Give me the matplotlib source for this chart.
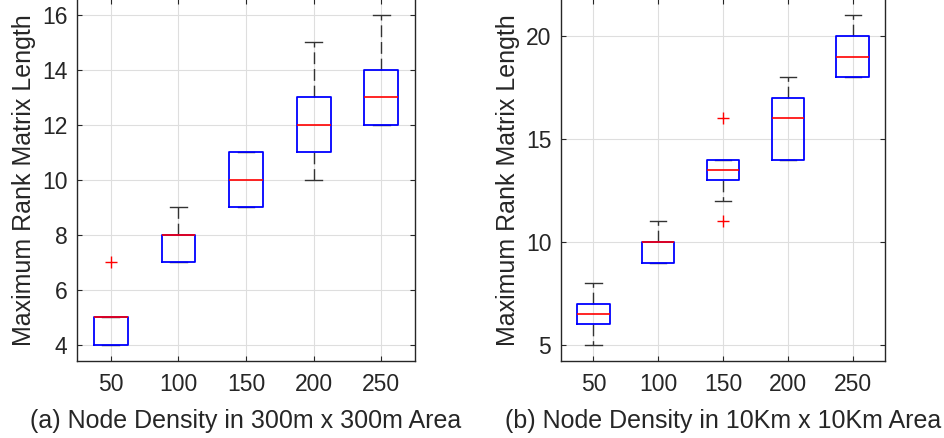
import matplotlib
matplotlib.use("Agg")
import matplotlib.pyplot as plt

plt.rcParams['font.family'] = ['Liberation Sans', 'DejaVu Sans']

densities = [50, 100, 150, 200, 250]

# (a) 300m x 300m area
a_lo = [4, 7, 9, 10, 12]
a_q1 = [4, 7, 9, 11, 12]
a_med = [5, 8, 10, 12, 13]
a_q3 = [5, 8, 11, 13, 14]
a_hi = [5, 9, 11, 15, 16]
a_out = [[7], [], [], [], []]

# (b) 10Km x 10Km area
b_lo = [5, 9, 12, 14, 18]
b_q1 = [6, 9, 13, 14, 18]
b_med = [6.5, 10, 13.5, 16, 19]
b_q3 = [7, 10, 14, 17, 20]
b_hi = [8, 11, 14, 18, 21]
b_out = [[], [], [16, 11], [], []]

TXT = '#262626'


def make_stats(lo, q1, med, q3, hi, out):
    return [dict(whislo=l, q1=a, med=m, q3=b, whishi=h, fliers=f)
            for l, a, m, b, h, f in zip(lo, q1, med, q3, hi, out)]


def draw_panel(ax, stats, ylim, yticks, xlabel):
    pos = list(range(1, len(densities) + 1))
    # caps/whiskers sit under the box so a zero-length whisker stays hidden
    ax.bxp(stats, positions=pos, widths=0.5,
           boxprops=dict(color='blue', linewidth=1.3, zorder=3),
           medianprops=dict(color='red', linewidth=1.2, zorder=4),
           whiskerprops=dict(color='#333333', linewidth=1.0,
                             linestyle=(0, (8.5, 3.5)), zorder=2),
           capprops=dict(color='#333333', linewidth=1.0, zorder=2),
           flierprops=dict(marker='+', markeredgecolor='red', markersize=8,
                           markeredgewidth=1.0, linestyle='none'))
    ax.set_xlim(0.5, 5.5)
    ax.set_ylim(*ylim)
    ax.set_xticks(pos, [str(d) for d in densities])
    ax.set_yticks(yticks)
    ax.set_axisbelow(True)
    ax.grid(True, color='#dedede', linewidth=0.8)
    ax.tick_params(direction='in', top=True, right=True, length=3.5, width=0.8,
                   color=TXT, labelcolor=TXT, labelsize=16.5)
    ax.tick_params(axis='x', pad=9)
    ax.tick_params(axis='y', pad=7)
    for s in ax.spines.values():
        s.set_color(TXT)
        s.set_linewidth(1.0)
    ax.set_ylabel('Maximum Rank Matrix Length', fontsize=18, color=TXT, labelpad=4)
    ax.set_xlabel(xlabel, fontsize=18, color=TXT, labelpad=9)


fig = plt.figure(figsize=(9.45, 4.38), dpi=100)
ax1 = fig.add_axes([0.0815, 0.1758, 0.3577, 0.8265])
ax2 = fig.add_axes([0.5937, 0.1758, 0.3429, 0.8265])

draw_panel(ax1, make_stats(a_lo, a_q1, a_med, a_q3, a_hi, a_out),
           (3.418, 16.58), [4, 6, 8, 10, 12, 14, 16],
           '(a) Node Density in 300m x 300m Area')
draw_panel(ax2, make_stats(b_lo, b_q1, b_med, b_q3, b_hi, b_out),
           (4.22, 21.8), [5, 10, 15, 20],
           '(b) Node Density in 10Km x 10Km Area')

fig.savefig('out.png', dpi=100)
